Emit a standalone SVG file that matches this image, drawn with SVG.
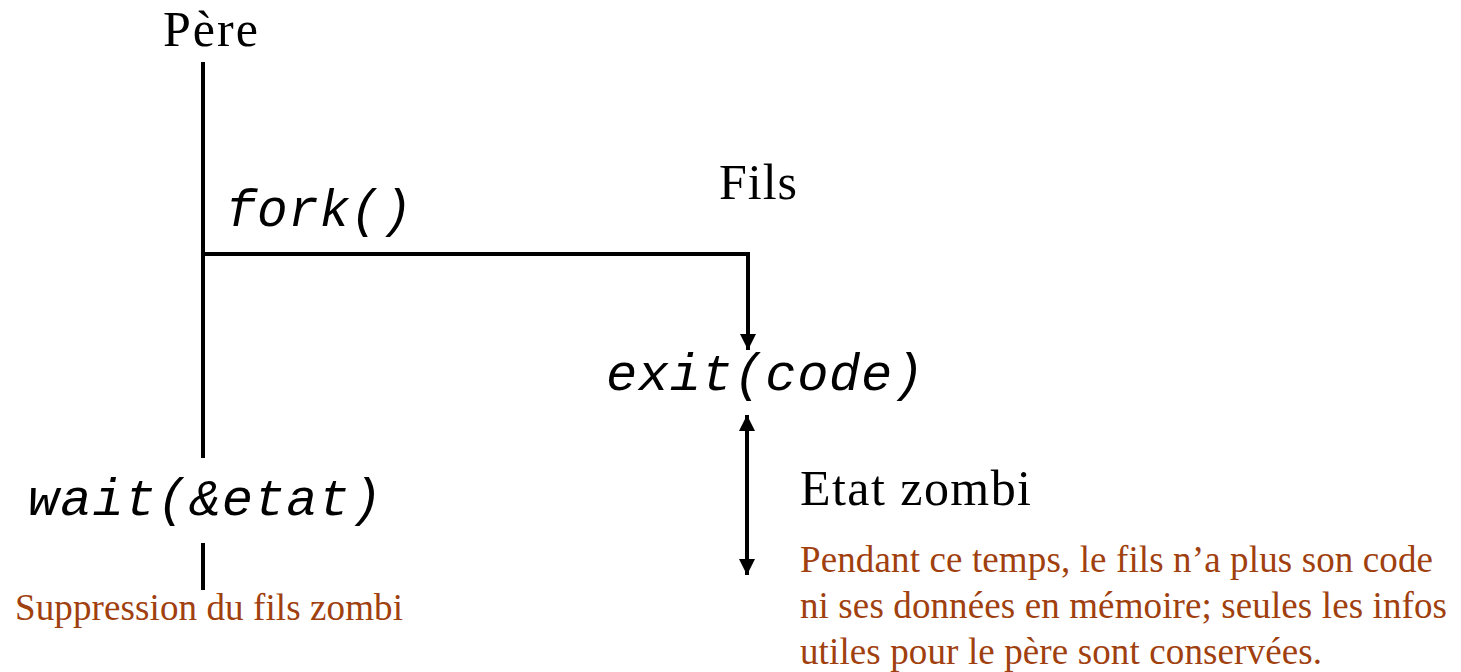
<svg xmlns="http://www.w3.org/2000/svg" width="1461" height="672" viewBox="0 0 1461 672">
  <style>
    .serif { font-family: "Liberation Serif", "Times New Roman", serif; fill: #000; }
    .mono { font-family: "Liberation Mono", "Courier New", monospace; font-style: italic; fill: #000; }
    .note { font-family: "Liberation Serif", "Times New Roman", serif; fill: #A0400E; font-size: 37px; }
    .line { stroke: #000; stroke-width: 4; fill: none; }
  </style>
  <defs>
    <marker id="head" viewBox="0 0 16 16" refX="16" refY="8" markerWidth="16" markerHeight="16" markerUnits="userSpaceOnUse" orient="auto-start-reverse">
      <path d="M0,0 L16,8 L0,16 Z" fill="#000"/>
    </marker>
  </defs>

  <!-- process lifelines and transitions -->
  <g id="connectors">
    <line class="line" x1="203" y1="62" x2="203" y2="458"/>
    <polyline class="line" points="203,254 748,254 748,334"/>
    <line class="line" x1="748" y1="254" x2="748" y2="350" marker-end="url(#head)"/>
    <line class="line" x1="747" y1="415" x2="747" y2="575" marker-start="url(#head)" marker-end="url(#head)"/>
    <line class="line" x1="203" y1="543" x2="203" y2="590"/>
  </g>

  <g id="pere">
    <text class="serif" x="163" y="46" font-size="50" textLength="95" lengthAdjust="spacing">Père</text>
  </g>
  <g id="fork">
    <text class="mono" x="226" y="226" font-size="51" textLength="186" lengthAdjust="spacing">fork()</text>
  </g>
  <g id="fils">
    <text class="serif" x="719" y="199" font-size="50" textLength="78" lengthAdjust="spacing">Fils</text>
  </g>
  <g id="exit">
    <text class="mono" x="606" y="390" font-size="52" textLength="318" lengthAdjust="spacing">exit(code)</text>
  </g>
  <g id="wait">
    <text class="mono" x="28" y="515" font-size="52" textLength="354" lengthAdjust="spacing">wait(&amp;etat)</text>
  </g>
  <g id="zombi">
    <text class="serif" x="800" y="505" font-size="50" textLength="231" lengthAdjust="spacing">Etat zombi</text>
  </g>
  <g id="suppression">
    <text class="note" x="15" y="620" textLength="388" lengthAdjust="spacing">Suppression du fils zombi</text>
  </g>
  <g id="explication">
    <text class="note" x="800" y="572" textLength="633" lengthAdjust="spacing">Pendant ce temps, le fils n’a plus son code</text>
    <text class="note" x="800" y="618" textLength="647" lengthAdjust="spacing">ni ses données en mémoire; seules les infos</text>
    <text class="note" x="800" y="664" textLength="522" lengthAdjust="spacing">utiles pour le père sont conservées.</text>
  </g>
</svg>
